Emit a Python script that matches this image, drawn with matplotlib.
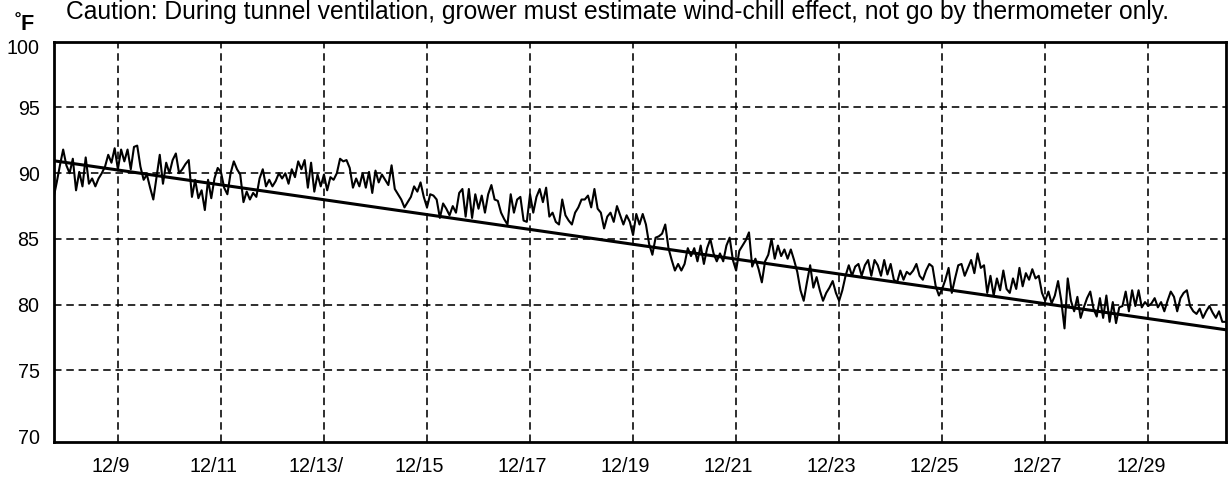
import numpy as np
import matplotlib
matplotlib.use("Agg")
import matplotlib.pyplot as plt
from matplotlib.transforms import ScaledTranslation

plt.rcParams['font.family'] = ['Liberation Sans', 'DejaVu Sans']

# ---- data (temperatures in F, sampled every 1.5 h from Dec 7 18:00) ----
start_day = 7.75
step_hours = 1.5
temps = [
    # 12/7.75 - 12/9
    88.1, 89.3, 90.6, 91.8, 90.6, 90.0, 91.1, 88.7, 90.1, 89.0, 91.2, 89.2, 89.6, 89.0, 89.6, 90.0, 90.5, 91.4, 90.8, 91.9,
    # 12/9 - 12/11
    90.3, 91.8, 90.9, 91.8, 90.3, 92.0, 92.1, 90.5, 89.5, 89.9, 88.9, 88.0, 89.7, 91.4, 89.2, 90.8,
    90.0, 91.0, 91.5, 90.0, 90.3, 90.7, 91.0, 88.2, 89.5, 88.1, 88.7, 87.2, 89.5, 88.1, 89.6, 90.4,
    # 12/11 - 12/13
    90.1, 88.9, 88.4, 90.0, 90.9, 90.3, 89.9, 87.8, 88.6, 88.0, 88.5, 88.2, 89.6, 90.3, 89.0, 89.5,
    89.0, 89.4, 90.0, 89.6, 90.0, 89.2, 90.3, 89.7, 90.9, 90.3, 91.0, 88.9, 90.8, 88.6, 89.9, 89.0,
    # 12/13 - 12/15
    89.9, 88.7, 89.7, 89.5, 90.0, 91.1, 90.9, 91.0, 90.4, 88.9, 89.6, 89.0, 90.0, 88.9, 90.1, 88.5,
    90.2, 89.3, 89.9, 89.5, 89.1, 90.6, 88.8, 88.4, 88.0, 87.4, 87.8, 88.2, 89.0, 88.6, 89.3, 88.2,
    # 12/15 - 12/17
    87.4, 88.4, 88.3, 88.0, 86.6, 87.7, 87.3, 86.8, 87.5, 87.0, 88.5, 88.8, 86.7, 88.8, 86.6, 88.4,
    87.3, 88.3, 87.0, 88.4, 89.1, 88.0, 87.9, 87.0, 86.5, 86.1, 88.4, 87.0, 88.0, 88.2, 86.4, 86.3,
    # 12/17 - 12/19
    88.4, 87.0, 88.2, 88.8, 87.8, 88.9, 86.7, 87.0, 86.3, 86.1, 88.0, 86.8, 86.4, 86.1, 87.0, 87.4,
    88.0, 88.0, 88.3, 87.4, 88.8, 87.3, 87.0, 85.8, 86.7, 87.0, 86.3, 87.5, 86.8, 86.1, 86.8, 86.3,
    # 12/19 - 12/21
    85.3, 86.9, 86.1, 86.9, 86.1, 84.6, 83.8, 85.1, 85.2, 85.4, 86.1, 84.3, 83.4, 82.6, 83.1, 82.6,
    83.1, 84.3, 83.7, 84.3, 83.3, 84.5, 83.1, 84.3, 85.0, 83.9, 83.3, 83.9, 83.3, 84.5, 85.1, 83.4,
    # 12/21 - 12/23
    82.6, 84.1, 84.5, 84.9, 85.5, 82.9, 83.5, 82.7, 81.7, 83.3, 83.8, 85.0, 83.5, 84.5, 83.7, 84.2,
    83.5, 84.2, 83.4, 82.5, 81.1, 80.3, 81.7, 83.0, 81.3, 82.1, 81.1, 80.3, 80.9, 81.3, 81.8, 80.9,
    # 12/23 - 12/25
    80.3, 81.1, 82.2, 83.0, 82.2, 82.9, 83.1, 82.2, 83.0, 83.4, 82.2, 83.4, 83.0, 82.2, 83.4, 82.3,
    83.1, 81.9, 81.7, 82.6, 81.9, 82.5, 82.3, 82.6, 83.1, 82.2, 81.9, 82.6, 83.1, 82.9, 81.4, 80.7,
    # 12/25 - 12/27
    81.2, 81.9, 82.8, 80.9, 82.0, 83.0, 83.1, 82.2, 82.8, 83.4, 82.4, 83.9, 82.8, 83.0, 80.9, 82.2,
    80.7, 82.0, 81.1, 82.6, 81.2, 80.9, 82.0, 81.2, 82.8, 81.4, 82.4, 81.9, 82.7, 82.0, 82.2, 80.9,
    # 12/27 - 12/29
    80.3, 81.0, 80.1, 80.7, 81.8, 80.3, 78.2, 82.0, 80.3, 79.5, 80.6, 79.0, 79.8, 80.5, 81.0, 79.7,
    79.1, 80.5, 79.0, 80.7, 78.7, 80.2, 78.6, 79.8, 79.9, 81.0, 79.5, 81.1, 79.9, 81.1, 79.8, 80.2,
    # 12/29 - 12/30.5
    79.9, 80.1, 80.5, 79.8, 80.2, 79.5, 80.3, 81.0, 80.6, 79.5, 80.5, 80.9, 81.1, 79.9, 79.5, 79.3,
    79.7, 79.0, 79.5, 79.9, 79.4, 79.0, 79.5, 78.7, 78.7,
]
trend_days = [7.75, 30.5]
trend_vals = [90.95, 78.1]

tick_days = [9, 11, 13, 15, 17, 19, 21, 23, 25, 27, 29]
tick_labels = ['12/9', '12/11', '12/13/', '12/15', '12/17', '12/19',
               '12/21', '12/23', '12/25', '12/27', '12/29']
y_ticks = [70, 75, 80, 85, 90, 95, 100]

title = ("Caution: During tunnel ventilation, grower must estimate "
         "wind-chill effect, not go by thermometer only.")

days = start_day + np.arange(len(temps)) * step_hours / 24.0

W, H = 1230, 487
fig = plt.figure(figsize=(W / 100, H / 100), dpi=100)
L, R, T, B = 53.5, 1225.5, 41.7, 441.5
ax = fig.add_axes([L / W, 1 - B / H, (R - L) / W, (B - T) / H])

ax.plot(days, temps, color='black', lw=1.5, zorder=3)
ax.plot(trend_days, trend_vals, color='black', lw=2.2, zorder=4)

ax.set_xlim(7.75, 30.5)
ax.set_ylim(69.6, 100)
ax.set_xticks(tick_days)
ax.set_xticklabels(tick_labels)
ax.set_yticks(y_ticks)
ax.grid(True, color='black', linestyle=(0, (4.7, 3.0)), linewidth=1.15, zorder=1)
ygl = ax.get_ygridlines()
ygl[0].set_visible(False)
ygl[-1].set_visible(False)
ax.tick_params(axis='both', length=0, labelsize=14.2, colors='black')
ax.tick_params(axis='y', pad=10)
ax.tick_params(axis='x', pad=11)
for s in ax.spines.values():
    s.set_linewidth(2.0)
    s.set_color('black')

shift = ScaledTranslation(-7.5 / 100, 0, fig.dpi_scale_trans)
for lab in ax.get_xticklabels():
    lab.set_transform(lab.get_transform() + shift)
down = ScaledTranslation(0, -5 / 100, fig.dpi_scale_trans)
ylabs = ax.get_yticklabels()
ylabs[-1].set_transform(ylabs[-1].get_transform() + down)

# caution text, fitted to the reference width, kept inside the image
t = fig.text(66 / W, 1 - 0.5 / H, title, fontsize=14, ha='left', va='top')
fig.canvas.draw()
wpx = t.get_window_extent().width
t.set_fontsize(14 * 1108 / wpx)

fig.text(15 / W, 1 - 30 / H, '˚F', fontsize=15.5, fontweight='bold',
         ha='left', va='baseline')

fig.savefig('out.png', dpi=100)
